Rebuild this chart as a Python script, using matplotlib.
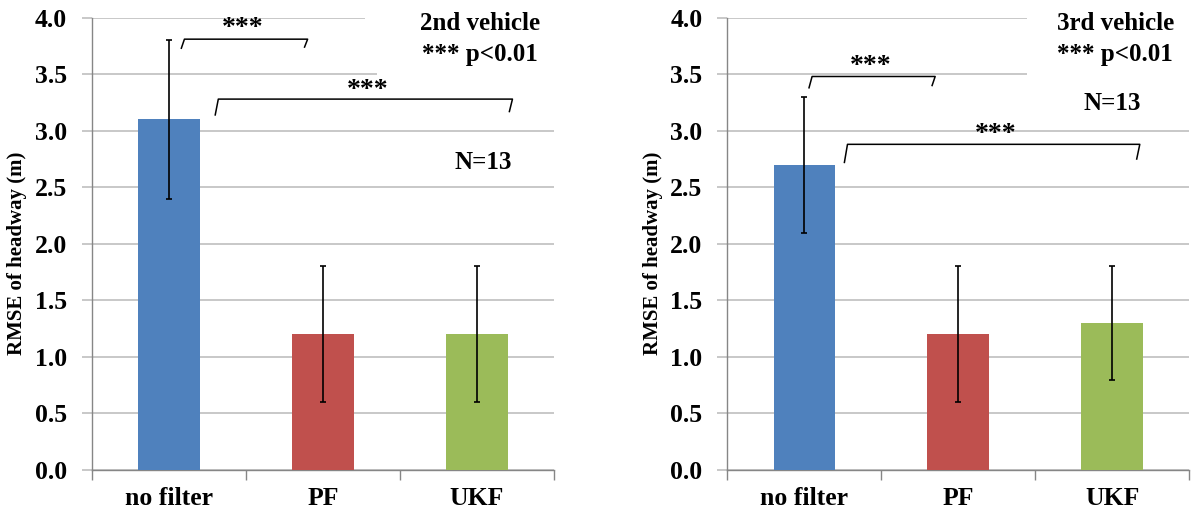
import matplotlib
matplotlib.use('Agg')
import matplotlib.pyplot as plt
from matplotlib.patches import Rectangle

# ── data ──────────────────────────────────────────────
categories = ['no filter', 'PF', 'UKF']
bar_colors = ['#4F81BD', '#C0504D', '#9BBB59']

rmse_2nd = [3.1, 1.2, 1.2]
err_2nd = [0.7, 0.6, 0.6]

rmse_3rd = [2.7, 1.2, 1.3]
err_3rd = [0.6, 0.6, 0.5]

yticks = [0.0, 0.5, 1.0, 1.5, 2.0, 2.5, 3.0, 3.5, 4.0]

plt.rcParams['font.family'] = ['Liberation Serif', 'DejaVu Serif']
plt.rcParams['font.weight'] = 'bold'

fig = plt.figure(figsize=(11.92, 5.14), dpi=100)
ax1 = fig.add_axes([0.0772, 0.0856, 0.3876, 0.880])
ax2 = fig.add_axes([0.6103, 0.0856, 0.3872, 0.880])


def draw_bracket(ax, x0, x1, y_top, y0_bot, y1_bot, star_x, star_y):
    ax.plot([x0 - 0.02, x0, x1, x1 - 0.02], [y0_bot, y_top, y_top, y1_bot],
            color='black', lw=1.1, zorder=5, clip_on=False)
    ax.text(star_x, star_y, '***', ha='center', va='center',
            fontsize=20, fontweight='bold', zorder=6)


def setup(ax, vals, errs, title, cover_x, n_xy, brackets, lab_x):
    x = range(len(categories))
    ax.bar(x, vals, width=0.4, color=bar_colors, zorder=3)
    ax.errorbar(x, vals, yerr=errs, fmt='none', ecolor='black',
                elinewidth=1.2, capsize=2.5, capthick=1.2, zorder=4)

    ax.set_xlim(-0.5, 2.5)
    ax.set_ylim(0, 4.0)
    ax.set_yticks(yticks)
    ax.set_yticklabels([f'{t:.1f}' for t in yticks], fontsize=18.5,
                       fontweight='bold')
    ax.yaxis.grid(True, color='#BFBFBF', lw=1.2, zorder=0)
    ax.set_axisbelow(True)
    ax.tick_params(axis='y', length=7, color='#BFBFBF', width=1.2, pad=11)

    ax.set_xticks(list(x))
    ax.set_xticklabels(categories, fontsize=18.5, fontweight='bold')
    ax.set_xticks([-0.5, 0.5, 1.5, 2.5], minor=True)
    ax.tick_params(axis='x', which='major', length=0, pad=12)
    ax.tick_params(axis='x', which='minor', length=7, color='#868686',
                   width=1.0)

    for s in ['top', 'right']:
        ax.spines[s].set_visible(False)
    ax.spines['left'].set_color('#868686')
    ax.spines['bottom'].set_color('#868686')
    ax.spines['left'].set_linewidth(1.0)
    ax.spines['bottom'].set_linewidth(1.0)

    ax.set_ylabel('RMSE of headway (m)', fontsize=15, fontweight='bold')
    ax.yaxis.set_label_coords(lab_x, 0.48)

    # white text box covering the top gridlines
    ax.add_patch(Rectangle((cover_x, 3.42), 2.6 - cover_x, 0.62,
                           facecolor='white', edgecolor='none', zorder=1,
                           clip_on=False))

    for b in brackets:
        draw_bracket(ax, *b)

    ax.text(2.02, 3.95, title, ha='center', va='center', fontsize=18,
            fontweight='bold', zorder=6)
    ax.text(2.02, 3.67, '*** p<0.01', ha='center', va='center', fontsize=18,
            fontweight='bold', zorder=6)
    ax.text(n_xy[0], n_xy[1], 'N=13', ha='center', va='center', fontsize=18,
            fontweight='bold', zorder=6)


setup(ax1, rmse_2nd, err_2nd, '2nd vehicle', 1.35, (2.04, 2.72),
      [(0.10, 0.90, 3.81, 3.73, 3.74, 0.48, 3.90),
       (0.32, 2.23, 3.28, 3.14, 3.17, 1.29, 3.36)], -0.14)
ax1.add_patch(Rectangle((1.27, 3.8), 0.2, 0.25, facecolor='white',
                        edgecolor='none', zorder=1, clip_on=False))

setup(ax2, rmse_3rd, err_3rd, '3rd vehicle', 1.45, (2.0, 3.24),
      [(0.05, 0.85, 3.48, 3.38, 3.40, 0.43, 3.57),
       (0.28, 2.18, 2.88, 2.72, 2.75, 1.24, 2.97)], -0.14)

fig.savefig('out.png', dpi=100, facecolor='white')
